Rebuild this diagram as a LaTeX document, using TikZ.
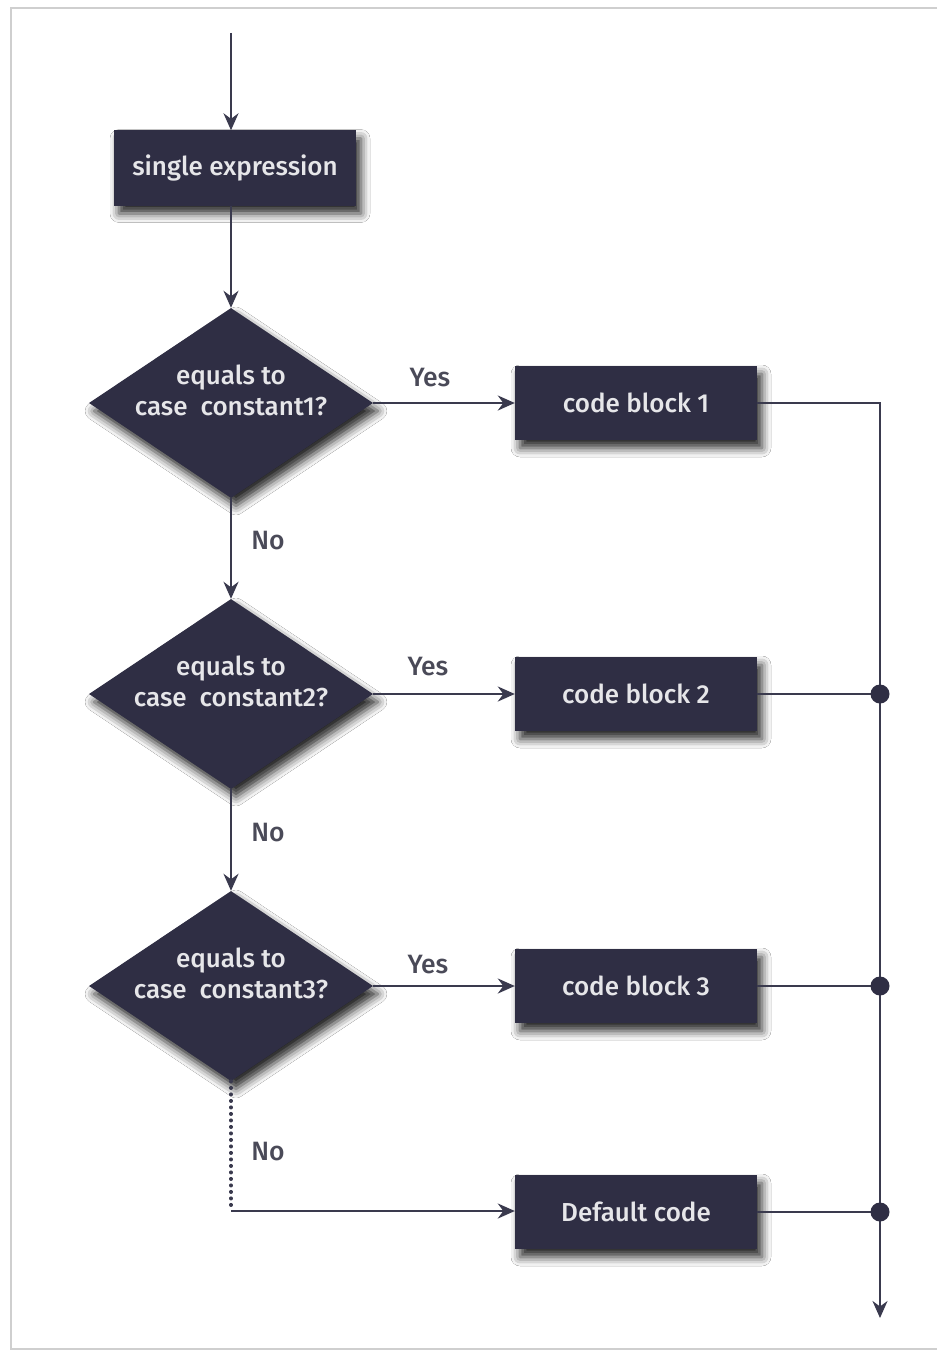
\documentclass[tikz,border=0pt]{standalone}
\usepackage{fontspec}
\setmainfont{Fira Sans}[UprightFont={* Medium}]
\usetikzlibrary{arrows.meta,shapes.geometric,shadows.blur}
\definecolor{navy}{HTML}{2F2E44}
\definecolor{wire}{HTML}{3A3A4E}
\definecolor{labelgray}{HTML}{4A4A58}
\definecolor{framegray}{HTML}{CFCFCF}
\begin{document}
\begin{tikzpicture}[x=1pt,y=-1pt,
  softshadow/.style={blur shadow={shadow xshift=5pt, shadow yshift=-8pt, shadow blur radius=9pt, shadow opacity=85}},
  box/.style={rectangle, fill=navy, text=white!88!navy, minimum width=242pt, minimum height=75pt,
    inner sep=0pt, font=\fontsize{26}{30}\selectfont, softshadow},
  decision/.style={diamond, aspect=1.5, fill=navy, text=white!88!navy, minimum width=284pt, minimum height=190pt,
    inner sep=-22pt, align=center, font=\fontsize{26}{31}\selectfont, softshadow},
  wireline/.style={draw=wire, line width=2.3pt},
  flow/.style={wireline, -{Stealth[length=17pt,width=15pt]}},
  lbl/.style={text=labelgray, font=\fontsize{26.5}{30}\selectfont, inner sep=0pt},
  junction/.style={circle, fill=navy, minimum size=19pt, inner sep=0pt}
]
  % canvas and frame
  \useasboundingbox (0,0) rectangle (937,1351);
  \fill[white] (0,0) rectangle (937,1351);
  \draw[framegray, line width=2pt] (937,8) -- (11,8) -- (11,1349) -- (937,1349);

  % nodes
  \coordinate (start) at (231,33);
  \node[box] (expr) at (235,168) {single expression};

  \node[decision] (d1) at (231,403) {equals to\\case\ \ constant1?\\[-14pt]\strut};
  \node[decision] (d2) at (231,694) {equals to\\case\ \ constant2?\\[-14pt]\strut};
  \node[decision] (d3) at (231,986) {equals to\\case\ \ constant3?\\[-14pt]\strut};

  \node[box, minimum height=74pt] (c1) at (636,403) {code block 1};
  \node[box, minimum height=74pt] (c2) at (636,694) {code block 2};
  \node[box, minimum height=74pt] (c3) at (636,986) {code block 3};
  \node[box, minimum height=74pt] (dc) at (636,1212) {Default code};

  \coordinate (bend) at (231,1211);
  \coordinate (top) at (880,403);
  \coordinate (finish) at (880,1318);

  % main flow
  \draw[flow] (start) -- (expr.north -| start);
  \draw[flow] (expr.south -| d1.north) -- (d1.north);
  \draw[flow] (d1.south) -- (d2.north);
  \draw[flow] (d2.south) -- (d3.north);
  \draw[flow] (d1.east) -- (c1.west);
  \draw[flow] (d2.east) -- (c2.west);
  \draw[flow] (d3.east) -- (c3.west);
  \draw[wire, line width=3.5pt, line cap=round, dash pattern=on 0.5pt off 6pt] (d3.south) -- (bend);
  \draw[flow] (bend) -- (dc.west |- bend);

  % collecting line on the right
  \coordinate (m2) at (880,694);
  \coordinate (m3) at (880,986);
  \coordinate (m4) at (880,1212);
  \draw[wireline] (c1.east) -- (top) -- (m4);
  \draw[wireline] (c2.east) -- (m2);
  \draw[wireline] (c3.east) -- (m3);
  \draw[wireline] (dc.east) -- (m4);
  \draw[flow] (m4) -- (finish);
  \node[junction] (j2) at (m2) {};
  \node[junction] (j3) at (m3) {};
  \node[junction] (j4) at (m4) {};

  % branch labels
  \node[lbl] (y1) at (430,378) {Yes};
  \node[lbl] (y2) at (428,667) {Yes};
  \node[lbl] (y3) at (428,965) {Yes};
  \node[lbl] (n1) at (268,541) {No};
  \node[lbl] (n2) at (268,833) {No};
  \node[lbl] (n3) at (268,1152) {No};
\end{tikzpicture}
\end{document}
